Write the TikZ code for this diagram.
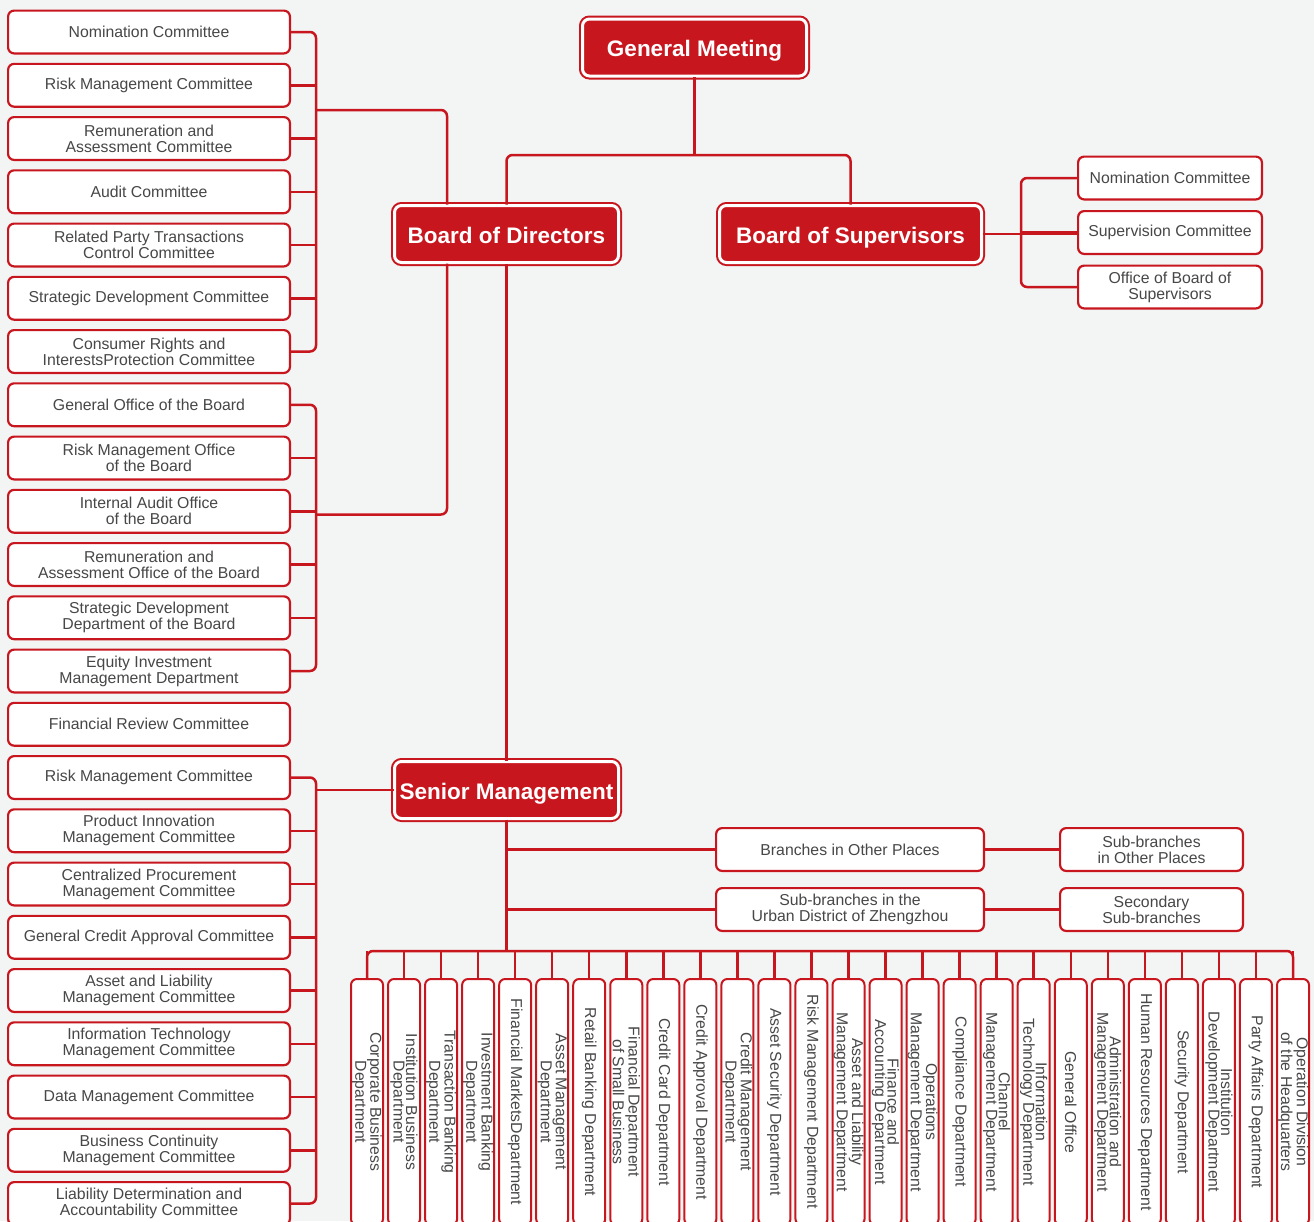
\documentclass[tikz,border=0pt]{standalone}
\usepackage{fontspec}
\setmainfont{Liberation Sans}
\usetikzlibrary{positioning}
\definecolor{orgred}{HTML}{C8161E}
\definecolor{orggray}{HTML}{474747}
\definecolor{orgbg}{HTML}{F3F5F4}

\begin{document}
\begin{tikzpicture}[x=1pt,y=-1pt]
	\tikzstyle{head}=[draw=orgred, fill=orgred, line width=2pt, double=white, double distance=3pt, rounded corners=7pt, text=white, font=\fontsize{22.5}{24}\selectfont\bfseries, minimum height=57pt, inner sep=0pt, text height=18pt, text depth=0pt]
	\tikzstyle{unit}=[draw=orgred, fill=white, line width=2.2pt, rounded corners=6pt, text=orggray, font=\fontsize{15.8}{16}\selectfont, align=center, minimum height=42.8pt, inner sep=0pt]
	\tikzstyle{lbox}=[unit, minimum width=281.8pt]
	\tikzstyle{rbox}=[unit, minimum width=183.8pt]
	\tikzstyle{dept}=[unit, rotate=-90, minimum width=246pt, minimum height=32pt, line width=2pt, font=\fontsize{15.8}{12.5}\selectfont]
	\tikzstyle{conn}=[draw=orgred, line width=2.5pt, rounded corners=6pt]

	\clip (0,0) rectangle (1314,1221);
	\fill[orgbg] (0,0) rectangle (1314,1221);

	% main bodies
	\node[head, minimum width=224pt] (gm) at (694.5,47.5) {General Meeting};
	\node[head, minimum width=224pt] (bod) at (506.5,234) {Board of Directors};
	\node[head, minimum width=262pt] (bos) at (850.5,234) {Board of Supervisors};
	\node[head, minimum width=224pt] (sm) at (506.5,790) {Senior Management};

	% board of supervisors
	\node[rbox] (bsn) at (1170,178) {Nomination Committee};
	\node[rbox] (bss) [below=9.5pt of bsn] {Supervision Committee};
	\node[rbox] (bso) [below=9.5pt of bss] {Office of Board of\\Supervisors};

	% board committees
	\node[lbox] (nc) at (149,32) {Nomination Committee};
	\node[lbox] (rmc) [below=8.25pt of nc] {Risk Management Committee};
	\node[lbox] (rac) [below=8.25pt of rmc] {Remuneration and\\Assessment Committee};
	\node[lbox] (ac) [below=8.25pt of rac] {Audit Committee};
	\node[lbox] (rpt) [below=8.25pt of ac] {Related Party Transactions\\Control Committee};
	\node[lbox] (sdc) [below=8.25pt of rpt] {Strategic Development Committee};
	\node[lbox] (crp) [below=8.25pt of sdc] {Consumer Rights and\\InterestsProtection Committee};

	% board offices
	\node[lbox] (gob) [below=8.25pt of crp] {General Office of the Board};
	\node[lbox] (rmo) [below=8.25pt of gob] {Risk Management Office\\of the Board};
	\node[lbox] (iao) [below=8.25pt of rmo] {Internal Audit Office\\of the Board};
	\node[lbox] (rao) [below=8.25pt of iao] {Remuneration and\\Assessment Office of the Board};
	\node[lbox] (sdd) [below=8.25pt of rao] {Strategic Development\\Department of the Board};
	\node[lbox] (eim) [below=8.25pt of sdd] {Equity Investment\\Management Department};
	\node[lbox] (frc) [below=8.25pt of eim] {Financial Review Committee};

	% management committees
	\node[lbox] (srm) [below=8.25pt of frc] {Risk Management Committee};
	\node[lbox] (pim) [below=8.25pt of srm] {Product Innovation\\Management Committee};
	\node[lbox] (cpm) [below=8.25pt of pim] {Centralized Procurement\\Management Committee};
	\node[lbox] (gca) [below=8.25pt of cpm] {General Credit Approval Committee};
	\node[lbox] (alm) [below=8.25pt of gca] {Asset and Liability\\Management Committee};
	\node[lbox] (itm) [below=8.25pt of alm] {Information Technology\\Management Committee};
	\node[lbox] (dmc) [below=8.25pt of itm] {Data Management Committee};
	\node[lbox] (bcm) [below=8.25pt of dmc] {Business Continuity\\Management Committee};
	\node[lbox] (lda) [below=8.25pt of bcm] {Liability Determination and\\Accountability Committee};

	% branches
	\node[unit, minimum width=267.8pt] (br) at (850,849.5) {Branches in Other Places};
	\node[unit, minimum width=182.8pt] (sbr) [right=74pt of br] {Sub-branches\\in Other Places};
	\node[unit, minimum width=267.8pt] (zz) [below=15pt of br] {Sub-branches in the\\Urban District of Zhengzhou};
	\node[unit, minimum width=182.8pt] (ssb) [right=74pt of zz] {Secondary\\Sub-branches};

	% headquarters departments
	\coordinate (bus) at (506.5,951);
	\foreach \dname [count=\i] in {{Corporate Business\\Department}, {Institution Business\\Department}, {Transaction Banking\\Department}, {Investment Banking\\Department}, {Financial MarketsDepartment}, {Asset Management\\Department}, {Retail Banking Department}, {Financial Department\\of Small Business}, {Credit Card Department}, {Credit Approval Department}, {Credit Management\\Department}, {Asset Security Department}, {Risk Management Department}, {Asset and Liability\\Management Department}, {Finance and\\Accounting Department}, {Operations\\Management Department}, {Compliance Department}, {Channel\\Management Department}, {Information\\Technology Department}, {General Office}, {Administration and\\Management Department}, {Human Resources Department}, {Security Department}, {Institution\\Development Department}, {Party Affairs Department}, {Operation Division\\of the Headquarters}}
	{
		\node[dept] (d\i) at ({367+37.04*(\i-1)},1102) {\dname};
		\draw[conn] (d\i.west) -- (d\i.west |- bus);
	}

	% connectors
	\coordinate (split) at (694.5,155);
	\draw[conn] (gm.south) -- (split);
	\draw[conn] (bod.north) |- (split) -| (bos.north);
	\draw[conn] (bod.south) -- (sm.north);

	\draw[conn] (bos.east) -- (bos.east -| bss.west);
	\draw[conn] (bsn.west) -- ++(-56,0) |- (bso.west);
	\draw[conn] (bss.west) -- ++(-56,0);

	\draw[conn] (nc.east) -- ++(25,0) |- (crp.east);
	\foreach \n in {rmc,rac,ac,rpt,sdc} \draw[conn] (\n.east) -- ++(25,0);
	\coordinate (j1) at (316,110);
	\draw[conn] (j1) -| ([xshift=-59.5pt]bod.north);

	\draw[conn] (gob.east) -- ++(25,0) |- (eim.east);
	\foreach \n in {rmo,iao,rao,sdd} \draw[conn] (\n.east) -- ++(25,0);
	\coordinate (j2) at (316,514.5);
	\draw[conn] (j2) -| ([xshift=-59.5pt]bod.south);

	\draw[conn] (srm.east) -- ++(25,0) |- (lda.east);
	\foreach \n in {pim,cpm,gca,alm,itm,dmc,bcm} \draw[conn] (\n.east) -- ++(25,0);
	\draw[conn] (sm.west) -- (sm.west -| j1);

	\draw[conn] (sm.south) -- (bus);
	\draw[conn] (br.west -| sm.south) -- (br.west);
	\draw[conn] (zz.west -| sm.south) -- (zz.west);
	\draw[conn] (br) -- (sbr);
	\draw[conn] (zz) -- (ssb);
	\draw[conn] (d1.west) -- (d1.west |- bus) -- (d26.west |- bus) -- (d26.west);
\end{tikzpicture}
\end{document}
